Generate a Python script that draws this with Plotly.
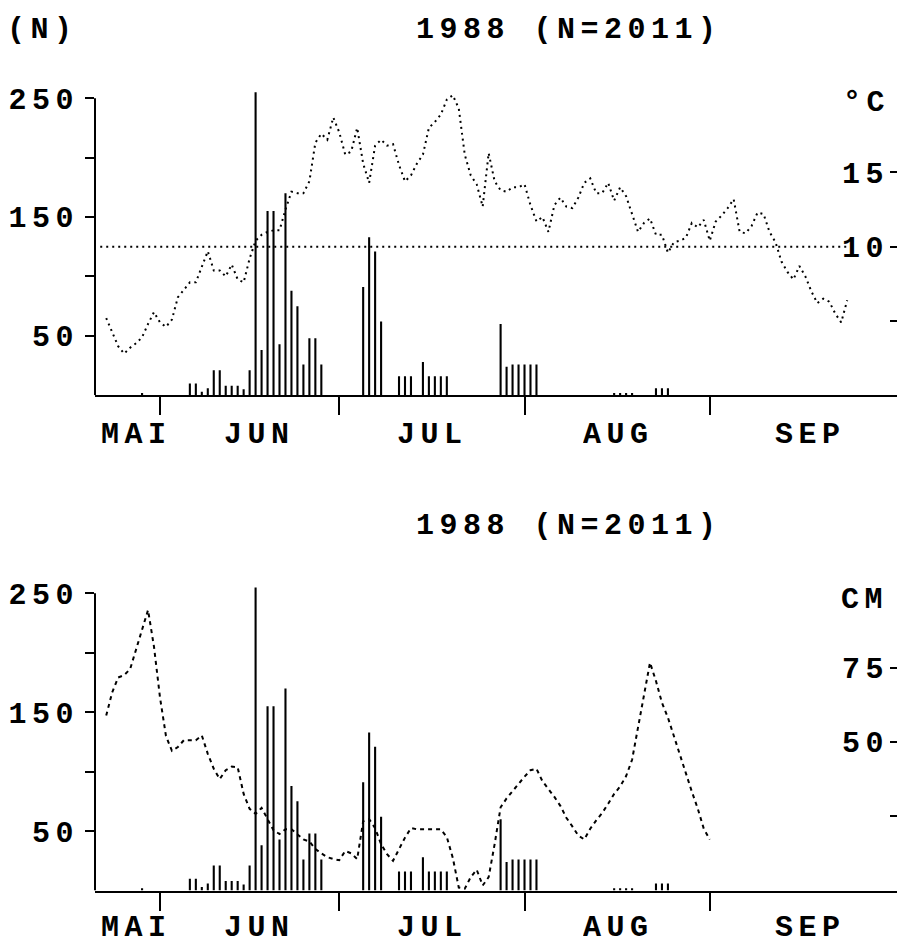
import pandas as pd
import plotly.graph_objects as go

W, H = 897, 944

TITLE = "1988 (N=2011)"
LEFT_UNIT = "(N)"
TEMP_UNIT = "°C"
LEVEL_UNIT = "CM"
MONTHS = ["MAI", "JUN", "JUL", "AUG", "SEP"]
MONTH_LABEL_DATES = ["1988-05-27 16:00", "1988-06-17 04:00", "1988-07-16 05:00",
                     "1988-08-16 07:00", "1988-09-17 10:00"]
MONTH_TICKS = ["1988-06-01", "1988-07-01", "1988-08-01", "1988-09-01", "1988-10-01"]
X_RANGE = ["1988-05-21 03:00", "1988-10-02 08:00"]

N_TICKS = [50, 100, 150, 200, 250]
N_TICKTEXT = ["50", "", "150", "", "250"]
TEMP_TICKS = [5, 10, 15]
TEMP_TICKTEXT = ["", "10", "15"]
LEVEL_TICKS = [25, 50, 75]
LEVEL_TICKTEXT = ["", "50", "75"]

# daily catches (N)
catch_dates = ["1988-05-29",
               "1988-06-06", "1988-06-07", "1988-06-08", "1988-06-09", "1988-06-10",
               "1988-06-11", "1988-06-12", "1988-06-13", "1988-06-14", "1988-06-15",
               "1988-06-16", "1988-06-17", "1988-06-18", "1988-06-19", "1988-06-20",
               "1988-06-21", "1988-06-22", "1988-06-23", "1988-06-24", "1988-06-25",
               "1988-06-26", "1988-06-27", "1988-06-28",
               "1988-07-05", "1988-07-06", "1988-07-07", "1988-07-08",
               "1988-07-11", "1988-07-12", "1988-07-13",
               "1988-07-15", "1988-07-16", "1988-07-17", "1988-07-18", "1988-07-19",
               "1988-07-28", "1988-07-29", "1988-07-30", "1988-07-31",
               "1988-08-01", "1988-08-02", "1988-08-03",
               "1988-08-16", "1988-08-17", "1988-08-18", "1988-08-19",
               "1988-08-23", "1988-08-24", "1988-08-25"]
catch_counts = [2,
                10, 10, 3, 6, 21,
                21, 8, 8, 8, 5,
                21, 256, 38, 155, 155,
                43, 170, 88, 75, 26,
                48, 48, 26,
                91, 133, 121, 62,
                16, 16, 16,
                28, 16, 16, 16, 16,
                60, 24, 26, 26,
                26, 26, 26,
                2, 2, 2, 2,
                6, 6, 6]

# daily air temperature (°C), starting 1988-05-23
temp_start = "1988-05-23"
temp_values = [5.2, 4.3, 3.3, 2.8, 3.2, 3.5, 3.9, 4.8, 5.6, 4.9,
               4.6, 5.1, 6.6, 7.1, 7.6, 7.6, 8.6, 9.7, 8.4, 8.4,
               8.0, 8.8, 7.8, 7.6, 9.2, 10.4, 10.8, 11.0, 11.1, 11.1,
               12.5, 13.7, 13.6, 13.6, 14.4, 17.0, 17.6, 17.2, 18.7, 17.7,
               16.2, 16.4, 18.0, 15.6, 14.3, 16.8, 17.2, 16.8, 16.9, 15.5,
               14.4, 14.8, 15.6, 16.2, 18.0, 18.4, 18.9, 19.9, 20.2, 19.3,
               16.2, 14.8, 14.2, 12.7, 16.3, 14.4, 13.8, 13.7, 14.0, 14.0,
               14.2, 12.8, 11.7, 12.0, 11.0, 12.8, 13.3, 12.7, 12.6, 13.3,
               14.3, 14.6, 13.6, 13.6, 14.3, 13.1, 14.0, 13.4, 12.2, 11.0,
               11.6, 11.9, 10.8, 10.8, 9.6, 10.3, 10.4, 10.6, 11.6, 11.3,
               11.8, 10.4, 11.7, 12.1, 12.6, 13.2, 11.0, 10.9, 11.4, 12.3,
               12.2, 11.0, 10.3, 9.0, 8.3, 7.8, 8.7, 8.0, 7.0, 6.2,
               6.5, 6.3, 5.5, 4.9, 6.4]

ref_temp = 10
ref_dates = ["1988-05-22", "1988-09-24 12:00"]

# daily water level (cm), starting 1988-05-23
level_start = "1988-05-23"
level_values = [58.9, 66.7, 71.7, 72.5, 74.5, 81, 88, 94.4, 82, 65,
                52, 47, 48.3, 50.6, 50.6, 50.6, 52.2, 46, 41, 37.5,
                40.5, 41.7, 41.5, 32.5, 27.5, 25.8, 27.8, 24, 20.3, 19,
                20.6, 20.6, 19, 17.2, 16.5, 14, 12.5, 11.2, 10.6, 10.2,
                13.3, 12.5, 10.6, 23.3, 24, 21, 15.6, 12.2, 10, 14,
                17.8, 21, 20.6, 20.6, 20.6, 20.6, 20.6, 18, 11, 1,
                0.6, 4.5, 7, 1.7, 4.5, 15.6, 28, 31, 33.5, 35.8,
                38.3, 40.5, 41, 36.8, 34.2, 31.5, 28.5, 24.5, 21.6, 18.5,
                17.2, 20.8, 23.6, 26.1, 29.2, 32.5, 35, 38.5, 44, 54.5,
                66, 76.7, 70.5, 63.2, 58.2, 52.2, 46, 39.5, 33.3, 27.5,
                20.8, 17.2]

temp_dates = pd.date_range(temp_start, periods=len(temp_values), freq="D")
level_dates = pd.date_range(level_start, periods=len(level_values), freq="D")

LS = 5.5  # letter spacing (px) to widen the monospace glyphs like the original


def wide(s):
    return f'<span style="letter-spacing:{LS}px">{s}</span>' if s else s


FONT = dict(family="Liberation Mono", size=30, color="black", weight="bold")
BAR_W = 0.35 * 86400000

fig = go.Figure()

for xa, ya in (("x", "y"), ("x2", "y3")):
    fig.add_trace(go.Bar(x=catch_dates, y=catch_counts, width=BAR_W,
                         marker=dict(color="black", line_width=0),
                         xaxis=xa, yaxis=ya))

fig.add_trace(go.Scatter(x=ref_dates, y=[ref_temp, ref_temp], mode="lines",
                         line=dict(color="black", width=2, dash="2px,4px"),
                         xaxis="x", yaxis="y2"))
fig.add_trace(go.Scatter(x=temp_dates, y=temp_values, mode="lines",
                         line=dict(color="black", width=2, dash="2px,4px"),
                         xaxis="x", yaxis="y2"))
fig.add_trace(go.Scatter(x=level_dates, y=level_values, mode="lines",
                         line=dict(color="black", width=2, dash="4px,4px"),
                         xaxis="x2", yaxis="y4"))

dom_top = [1 - 390 / H, 1 - 84 / H]
dom_bot = [1 - 890 / H, 1 - 584 / H]
xdom = [95 / W, 1]

xcommon = dict(type="date", range=X_RANGE, domain=xdom, tickvals=MONTH_TICKS,
               ticks="outside", ticklen=18, tickwidth=2, tickcolor="black",
               showticklabels=False, showline=True, linewidth=2, linecolor="black",
               showgrid=False, zeroline=False)
ycommon = dict(tickvals=N_TICKS, ticktext=[wide(t) for t in N_TICKTEXT],
               ticks="outside", ticklen=9,
               tickwidth=2, tickcolor="black", showline=False, showgrid=False,
               zeroline=False, tickfont=FONT, range=[0, 255], ticklabelstandoff=0)
rcommon = dict(side="right", ticks="inside", ticklen=7, tickwidth=2, tickcolor="black",
               ticklabelposition="inside", showline=False, showgrid=False,
               zeroline=False, tickfont=FONT, ticklabelstandoff=4)

fig.update_layout(
    width=W, height=H, autosize=False,
    margin=dict(l=0, r=0, t=0, b=0),
    paper_bgcolor="white", plot_bgcolor="white",
    showlegend=False, barmode="overlay",
    xaxis=dict(anchor="y", **xcommon),
    xaxis2=dict(anchor="y3", **xcommon),
    yaxis=dict(domain=dom_top, anchor="x", **ycommon),
    yaxis3=dict(domain=dom_bot, anchor="x2", **ycommon),
    yaxis2=dict(overlaying="y", anchor="x", range=[0, 255 / 12.5],
                tickvals=TEMP_TICKS, ticktext=[wide(t) for t in TEMP_TICKTEXT], **rcommon),
    yaxis4=dict(overlaying="y3", anchor="x2", range=[0, 255 / 2.5],
                tickvals=LEVEL_TICKS, ticktext=[wide(t) for t in LEVEL_TICKTEXT], **rcommon),
)

for xd, ya in (("x domain", "y"), ("x2 domain", "y3")):
    fig.add_shape(type="line", xref=xd, yref=ya, x0=0, x1=0, y0=0, y1=250,
                  line=dict(color="black", width=2))

ann = []
ann.append(dict(text=LEFT_UNIT, x=(40 + LS / 2) / W, y=1 - 21 / H))
ann.append(dict(text=TITLE, x=(566 + LS / 2) / W, y=1 - 21 / H))
ann.append(dict(text=TITLE, x=(566 + LS / 2) / W, y=1 - 522 / H))
ann.append(dict(text=TEMP_UNIT, x=(864 + LS / 2) / W, y=1 - 95 / H))
ann.append(dict(text=LEVEL_UNIT, x=(862 + LS / 2) / W, y=1 - 597 / H))
for a in ann:
    a["text"] = wide(a["text"])
    fig.add_annotation(xref="paper", yref="paper", showarrow=False,
                       xanchor="center", yanchor="middle", font=FONT,
                       height=32, valign="middle", **a)
for xa, ypx in (("x", 430), ("x2", 928)):
    for m, d in zip(MONTHS, MONTH_LABEL_DATES):
        fig.add_annotation(xref=xa, yref="paper", x=d, y=1 - ypx / H, text=wide(m),
                           xshift=LS / 2,
                           showarrow=False, xanchor="center", yanchor="middle",
                           font=FONT, height=32, valign="middle")

fig.write_html("out.html")
